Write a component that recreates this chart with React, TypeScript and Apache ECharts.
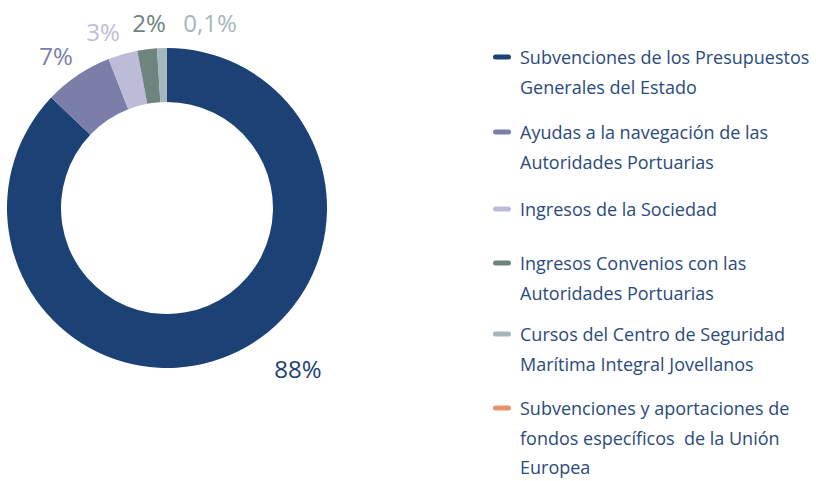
import React, { useEffect, useRef } from "react";
import * as echarts from "echarts";

const categories = [
  "Subvenciones de los Presupuestos\nGenerales del Estado",
  "Ayudas a la navegación de las\nAutoridades Portuarias",
  "Ingresos de la Sociedad",
  "Ingresos Convenios con las\nAutoridades Portuarias",
  "Cursos del Centro de Seguridad\nMarítima Integral Jovellanos",
  "Subvenciones y aportaciones de\nfondos específicos  de la Unión\nEuropea",
];
const values: (number | null)[] = [88, 7, 3, 2, 0.1, null];
const valueLabels = ["88%", "7%", "3%", "2%", "0,1%", ""];
const colors = ["#1c4174", "#7a7ea8", "#bdbcd8", "#6f837f", "#a4b7bf", "#e8936a"];

// layout constants (label anchors and legend rows)
const labelPositions: [number, number][] = [
  [298, 368],
  [56, 55],
  [103, 31],
  [149, 22],
  [210, 22],
];
const legendRows = [57, 132, 209, 263, 334, 408];

export default function App() {
  const ref = useRef<HTMLDivElement>(null);
  useEffect(() => {
    document.body.style.margin = "0";
    if (!ref.current) return;
    const chart = echarts.init(ref.current, undefined, { renderer: "svg" });
    const data = categories
      .map((name, i) => ({ name, value: values[i], idx: i }))
      .filter((d) => d.value !== null)
      .map((d) => ({
        name: d.name,
        value: d.value as number,
        itemStyle: { color: colors[d.idx] },
        label: { color: colors[d.idx], formatter: valueLabels[d.idx] },
      }));

    const legendGraphics = categories.map((name, i) => ({
      type: "group",
      x: 493,
      y: legendRows[i],
      children: [
        {
          type: "rect",
          shape: { x: 0, y: -2.5, width: 18, height: 5, r: 2.5 },
          style: { fill: colors[i] },
        },
        {
          type: "text",
          x: 27,
          y: -14.5,
          style: {
            text: name,
            fill: "#2b4a7d",
            font: "18px 'Open Sans'",
            lineHeight: 29.5,
            verticalAlign: "top",
          },
        },
      ],
    }));

    chart.setOption({
      animation: false,
      backgroundColor: "#ffffff",
      series: [
        {
          type: "pie",
          center: [167, 208],
          radius: [106, 160],
          startAngle: 90,
          clockwise: true,
          minAngle: 3.6,
          avoidLabelOverlap: false,
          data,
          label: {
            show: true,
            position: "outside",
            fontFamily: "Open Sans",
            fontSize: 24,
          },
          labelLine: { show: false },
          labelLayout: (params: any) => {
            const p = labelPositions[params.dataIndex];
            return { x: p[0], y: p[1], align: "center", verticalAlign: "middle" };
          },
          emphasis: { disabled: true },
        },
      ],
      graphic: legendGraphics,
    });
    return () => chart.dispose();
  }, []);
  return <div ref={ref} style={{ width: 816, height: 481 }} />;
}
